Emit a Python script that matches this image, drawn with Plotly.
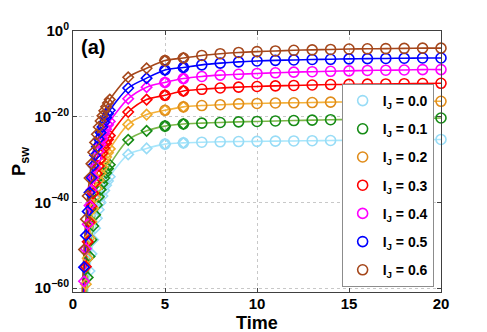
import numpy as np
import plotly.graph_objects as go

# Switching probability P_sw vs time for several I_J values (log10 of P_sw).
labels = ["0.0", "0.1", "0.2", "0.3", "0.4", "0.5", "0.6"]

time_early = [0.5, 0.6, 0.7, 0.8, 0.9, 1.0, 1.1, 1.2, 1.3, 1.4, 1.5, 1.6, 1.7, 1.8, 1.9, 2.0]
time_late = [3, 4, 5, 6, 7, 8, 9, 10, 11, 12, 13, 14, 15, 16, 17, 18, 19, 20]

log_early = [
    [-88, -76, -67.4, -61, -56, -52, -48.7, -46, -43.7, -41.7, -40, -38.5, -37.2, -36, -35, -34],
    [-83.7, -72, -63.7, -57.5, -52.6, -48.7, -45.5, -42.9, -40.6, -38.7, -37, -35.6, -34.3, -33.1, -32.1, -31.2],
    [-78.5, -67.2, -59.1, -53, -48.3, -44.5, -41.4, -38.8, -36.7, -34.8, -33.2, -31.8, -30.5, -29.4, -28.4, -27.5],
    [-73.9, -62.9, -55, -49.2, -44.6, -40.9, -37.9, -35.4, -33.3, -31.5, -29.9, -28.5, -27.3, -26.2, -25.3, -24.4],
    [-69.1, -58.4, -50.8, -45.1, -40.7, -37.1, -34.2, -31.8, -29.7, -28, -26.4, -25.1, -23.9, -22.9, -21.9, -21.1],
    [-65.6, -55.1, -47.7, -42.1, -37.7, -34.2, -31.4, -29, -27, -25.2, -23.7, -22.4, -21.3, -20.2, -19.3, -18.5],
    [-61, -51, -43.9, -38.5, -34.3, -31, -28.3, -26, -24.1, -22.4, -21, -19.8, -18.6, -17.7, -16.8, -16],
]
log_late = [
    [-28.8, -27.4, -26.4, -26.1, -25.95, -25.85, -25.8, -25.75, -25.7, -25.65, -25.6, -25.55, -25.5, -25.45, -25.4, -25.4, -25.35, -25.3],
    [-25.4, -23.3, -22.2, -21.7, -21.5, -21.35, -21.2, -21.1, -21, -20.9, -20.8, -20.7, -20.65, -20.6, -20.5, -20.45, -20.4, -20.3],
    [-21.8, -19.5, -18.5, -17.7, -17.4, -17.2, -17, -16.9, -16.8, -16.75, -16.7, -16.6, -16.55, -16.5, -16.5, -16.45, -16.4, -16.4],
    [-18.9, -16, -15, -14, -13.6, -13.3, -13.1, -12.95, -12.8, -12.7, -12.6, -12.5, -12.45, -12.4, -12.35, -12.3, -12.25, -12.2],
    [-15.8, -13.1, -12, -11.1, -10.6, -10.3, -10.1, -9.9, -9.75, -9.6, -9.5, -9.4, -9.3, -9.2, -9.15, -9.1, -9, -9],
    [-13.3, -11, -9.1, -8.5, -7.9, -7.5, -7.2, -7, -6.85, -6.75, -6.65, -6.6, -6.5, -6.45, -6.4, -6.35, -6.3, -6.3],
    [-10.8, -8.7, -6.9, -6.3, -5.7, -5.3, -5, -4.8, -4.65, -4.5, -4.4, -4.3, -4.2, -4.15, -4.1, -4.05, -4, -4],
]

line_colors = ["#a8e6fb", "#7ab648", "#f4b13a", "#ff0000", "#ff00ff", "#0000ff", "#a5471b"]
marker_colors = ["#98dcf6", "#168c16", "#e08c1a", "#ff0000", "#ff00ff", "#0000ff", "#a5471b"]
diamond_colors = ["#98dcf6", "#168c16", "#f0aa2a", "#ff0000", "#ff00ff", "#0000ff", "#a5471b"]

FONT = "Liberation Sans, Arial, sans-serif"
N_DIAMOND_LATE = 4   # diamonds continue at t = 3..6
N_CIRCLE_SKIP = 2    # circles start at t = 5

fig = go.Figure()

for i, lab in enumerate(labels):
    t_all = time_early + time_late
    p_all = 10.0 ** np.array(log_early[i] + log_late[i])
    fig.add_trace(go.Scatter(
        x=t_all, y=p_all, mode="lines",
        line=dict(color=line_colors[i], width=1.6, shape="spline", smoothing=0.8),
        showlegend=False, hoverinfo="skip",
    ))

for i, lab in enumerate(labels):
    t_d = time_early + time_late[:N_DIAMOND_LATE]
    p_d = 10.0 ** np.array(log_early[i] + log_late[i][:N_DIAMOND_LATE])
    fig.add_trace(go.Scatter(
        x=t_d, y=p_d, mode="markers",
        marker=dict(symbol="diamond-open", size=8, color=diamond_colors[i],
                    line=dict(width=1.6, color=diamond_colors[i])),
        showlegend=False, cliponaxis=False,
    ))

for i, lab in enumerate(labels):
    t_c = time_late[N_CIRCLE_SKIP:]
    p_c = 10.0 ** np.array(log_late[i][N_CIRCLE_SKIP:])
    fig.add_trace(go.Scatter(
        x=t_c, y=p_c, mode="markers",
        name=f"<b>I<sub>J</sub> = {lab}</b>",
        legendgroup=f"g{i}",
        marker=dict(symbol="circle-open", size=10, color=marker_colors[i],
                    line=dict(width=1.6, color=marker_colors[i])),
        cliponaxis=False,
    ))

ytick_exp = [0, -20, -40, -60]
# the page body adds an 8px offset, so margins are shifted by that much
fig.update_layout(
    width=487, height=332,
    margin=dict(l=65, r=54, t=16, b=48),
    paper_bgcolor="white", plot_bgcolor="white",
    font=dict(family=FONT, color="black", size=14),
    legend=dict(
        x=0.73, y=0.797, xanchor="left", yanchor="top",
        bgcolor="white", bordercolor="#8c8c8c", borderwidth=1,
        font=dict(size=14, family=FONT), tracegroupgap=7,
        traceorder="grouped",
    ),
    annotations=[
        dict(text="<b>(a)</b>", x=0.054, y=0.937, xref="paper", yref="paper",
             xanchor="center", yanchor="middle",
             showarrow=False, font=dict(size=20, family=FONT)),
        dict(text="<b>Time</b>", x=0.5, y=-0.118, xref="paper", yref="paper",
             xanchor="center", yanchor="middle",
             showarrow=False, font=dict(size=18, family=FONT)),
        dict(text="<b>P<sub>sw</sub></b>", x=-0.143, y=0.5, xref="paper", yref="paper",
             xanchor="center", yanchor="middle",
             showarrow=False, textangle=-90, font=dict(size=18, family=FONT)),
    ],
)
fig.update_xaxes(
    range=[0, 20], tickvals=[0, 5, 10, 15, 20],
    ticktext=[f"<b>{v}</b>" for v in [0, 5, 10, 15, 20]],
    tickfont=dict(size=15, family=FONT), ticklabelstandoff=-2,
    ticks="inside", ticklen=4, tickcolor="#404040",
    showline=True, linecolor="#404040", linewidth=1, mirror="ticks",
    showgrid=True, gridcolor="#c8c8c8", griddash="dot", gridwidth=1,
    zeroline=False,
)
fig.update_yaxes(
    type="log", range=[-60.9, 0.001],
    tickvals=[10.0 ** e for e in ytick_exp],
    ticktext=[f"<b>10<sup>{'−' + str(-e) if e else '0'}</sup></b>" for e in ytick_exp],
    tickfont=dict(size=15, family=FONT),
    ticks="inside", ticklen=4, tickcolor="#404040",
    showline=True, linecolor="#404040", linewidth=1, mirror="ticks",
    showgrid=True, gridcolor="#c8c8c8", griddash="dot", gridwidth=1,
    zeroline=False,
)

fig.write_html("out.html")
